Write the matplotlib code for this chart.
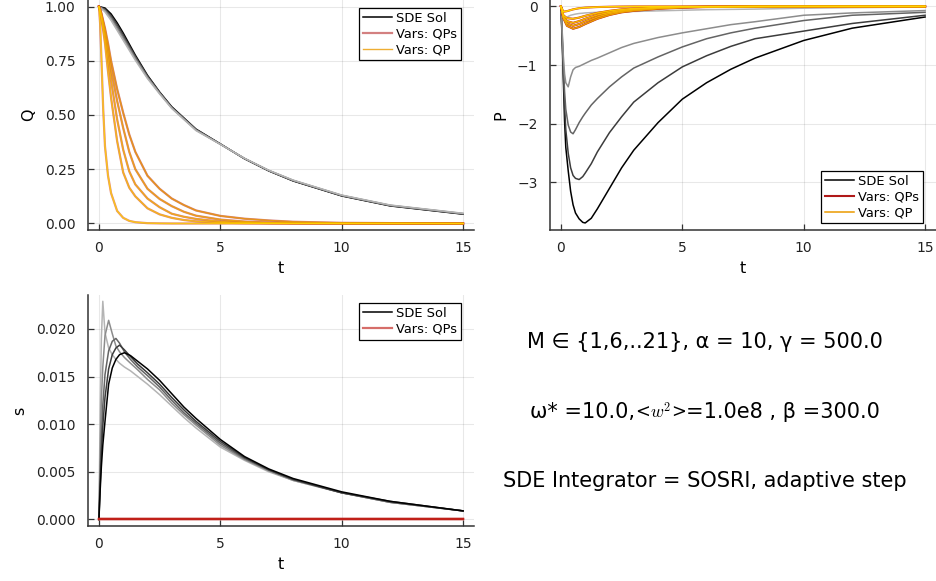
import matplotlib
matplotlib.use("Agg")
import matplotlib.pyplot as plt
from matplotlib.offsetbox import TextArea, HPacker, AnnotationBbox

plt.rcParams['font.family'] = ['DejaVu Sans']
plt.rcParams['mathtext.fontset'] = 'cm'

# ---- curve families (one row per M, darkest first) ----
M_values = [21, 16, 11, 6, 1]

sde_colors = ['#000000', '#3c3c3c', '#646464', '#8c8c8c', '#b4b4b4']
qp_colors = ['#eb9a00', '#f0a800', '#f4b400', '#f9c200', '#ffd400']
qps_colors = ['#b01818', '#b81c18', '#c01f18', '#c82418', '#d02a18']

# Q: SDE solution
t_q_sde = [0, 0.25, 0.5, 0.75, 1, 1.5, 2, 2.5, 3, 4, 5, 6, 7, 8, 10, 12, 15]
q_sde = [
    [1.0, 0.993, 0.966, 0.925, 0.878, 0.776, 0.683, 0.606, 0.538, 0.435, 0.367, 0.298, 0.242, 0.196, 0.127, 0.081, 0.043],
    [1.0, 0.988, 0.958, 0.916, 0.869, 0.770, 0.680, 0.604, 0.536, 0.433, 0.366, 0.299, 0.243, 0.197, 0.128, 0.082, 0.044],
    [1.0, 0.984, 0.951, 0.907, 0.860, 0.765, 0.676, 0.602, 0.534, 0.432, 0.366, 0.299, 0.244, 0.198, 0.129, 0.083, 0.045],
    [1.0, 0.980, 0.944, 0.898, 0.852, 0.758, 0.672, 0.600, 0.532, 0.430, 0.365, 0.300, 0.244, 0.199, 0.130, 0.084, 0.046],
    [1.0, 0.975, 0.936, 0.890, 0.844, 0.752, 0.668, 0.597, 0.530, 0.428, 0.365, 0.300, 0.245, 0.200, 0.131, 0.085, 0.047],
]

# Q: variational solutions (QPs and QP coincide)
t_q_var = [0, 0.05, 0.1, 0.175, 0.25, 0.375, 0.5, 0.75, 1, 1.25, 1.5, 2, 2.5, 3, 3.5, 4, 5, 6, 7, 8, 10, 15]
q_var = [
    [1, 0.990, 0.970, 0.935, 0.900, 0.830, 0.750, 0.620, 0.510, 0.410, 0.330, 0.220, 0.160, 0.115, 0.085, 0.060, 0.035, 0.022, 0.014, 0.008, 0.003, 0],
    [1, 0.985, 0.965, 0.925, 0.885, 0.800, 0.710, 0.565, 0.440, 0.330, 0.250, 0.160, 0.113, 0.080, 0.054, 0.036, 0.018, 0.009, 0.0045, 0.002, 0.0005, 0],
    [1, 0.980, 0.955, 0.910, 0.860, 0.760, 0.660, 0.480, 0.340, 0.240, 0.180, 0.115, 0.075, 0.045, 0.031, 0.021, 0.009, 0.004, 0.002, 0.001, 0, 0],
    [1, 0.975, 0.945, 0.890, 0.830, 0.700, 0.580, 0.380, 0.235, 0.165, 0.125, 0.070, 0.042, 0.026, 0.016, 0.010, 0.004, 0.0015, 0.0005, 0, 0, 0],
    [1, 0.920, 0.770, 0.530, 0.355, 0.220, 0.140, 0.058, 0.026, 0.012, 0.006, 0.0015, 0.0005, 0, 0, 0, 0, 0, 0, 0, 0, 0],
]

# P: SDE solution
t_p_sde = [0, 0.05, 0.1, 0.15, 0.2, 0.3, 0.4, 0.5, 0.6, 0.75, 0.9, 1.0, 1.25, 1.5, 2, 2.5, 3, 4, 5, 6, 7, 8, 10, 12, 15]
p_sde = [
    [0, -0.55, -1.25, -1.95, -2.40, -2.80, -3.15, -3.38, -3.52, -3.62, -3.68, -3.69, -3.61, -3.45, -3.10, -2.75, -2.45, -1.98, -1.58, -1.30, -1.07, -0.88, -0.58, -0.37, -0.18],
    [0, -0.50, -1.15, -1.70, -2.10, -2.50, -2.75, -2.88, -2.93, -2.95, -2.90, -2.84, -2.68, -2.48, -2.15, -1.88, -1.63, -1.30, -1.03, -0.84, -0.68, -0.55, -0.42, -0.29, -0.15],
    [0, -0.45, -1.00, -1.45, -1.75, -2.02, -2.14, -2.17, -2.10, -1.98, -1.88, -1.82, -1.68, -1.57, -1.37, -1.20, -1.05, -0.86, -0.69, -0.55, -0.45, -0.37, -0.24, -0.15, -0.10],
    [0, -0.40, -0.85, -1.15, -1.30, -1.37, -1.20, -1.08, -1.04, -1.02, -0.99, -0.97, -0.92, -0.88, -0.79, -0.70, -0.63, -0.53, -0.45, -0.38, -0.31, -0.26, -0.15, -0.11, -0.07],
    [0, -0.10, -0.17, -0.20, -0.20, -0.17, -0.15, -0.14, -0.13, -0.12, -0.115, -0.11, -0.105, -0.10, -0.095, -0.09, -0.085, -0.075, -0.065, -0.055, -0.05, -0.045, -0.03, -0.02, -0.01],
]

# P: variational solutions
t_p_var = [0, 0.1, 0.25, 0.5, 0.75, 1, 1.5, 2, 2.5, 3, 4, 5, 6, 8, 10, 15]
p_var = [
    [0, -0.20, -0.33, -0.38, -0.35, -0.30, -0.21, -0.145, -0.10, -0.075, -0.040, -0.020, -0.010, -0.003, 0, 0],
    [0, -0.19, -0.29, -0.33, -0.30, -0.255, -0.18, -0.12, -0.085, -0.060, -0.030, -0.015, -0.007, -0.002, 0, 0],
    [0, -0.18, -0.25, -0.28, -0.25, -0.21, -0.145, -0.10, -0.07, -0.048, -0.024, -0.012, -0.005, -0.001, 0, 0],
    [0, -0.15, -0.20, -0.21, -0.19, -0.16, -0.11, -0.075, -0.05, -0.035, -0.017, -0.008, -0.004, 0, 0, 0],
    [0, -0.09, -0.08, -0.05, -0.03, -0.02, -0.01, -0.005, -0.002, 0, 0, 0, 0, 0, 0, 0],
]

# s: SDE solution
t_s_sde = [0, 0.05, 0.1, 0.16, 0.25, 0.4, 0.55, 0.7, 0.85, 1.05, 1.3, 1.6, 2, 2.5, 3, 3.5, 4, 5, 6, 7, 8, 10, 12, 15]
s_sde = [
    [0, 0.0030, 0.0055, 0.0078, 0.0103, 0.0142, 0.0159, 0.0168, 0.0173, 0.0175, 0.0172, 0.0166, 0.0158, 0.0146, 0.0132, 0.0118, 0.0106, 0.0084, 0.0066, 0.0053, 0.0043, 0.0029, 0.0019, 0.0009],
    [0, 0.0035, 0.0070, 0.0098, 0.0128, 0.0158, 0.0173, 0.0180, 0.0183, 0.0178, 0.0171, 0.0163, 0.0154, 0.0142, 0.0128, 0.0115, 0.0103, 0.0082, 0.0065, 0.0052, 0.0042, 0.0028, 0.0019, 0.0009],
    [0, 0.0045, 0.0085, 0.0120, 0.0152, 0.0177, 0.0187, 0.0190, 0.0185, 0.0176, 0.0168, 0.0160, 0.0151, 0.0139, 0.0125, 0.0112, 0.0101, 0.0080, 0.0064, 0.0052, 0.0042, 0.0028, 0.0018, 0.0009],
    [0, 0.0070, 0.0125, 0.0160, 0.0193, 0.0209, 0.0195, 0.0182, 0.0176, 0.0170, 0.0164, 0.0157, 0.0147, 0.0136, 0.0122, 0.0110, 0.0099, 0.0078, 0.0063, 0.0051, 0.0041, 0.0028, 0.0018, 0.0009],
    [0, 0.0110, 0.0190, 0.0229, 0.0196, 0.0180, 0.0173, 0.0168, 0.0164, 0.0160, 0.0156, 0.0150, 0.0142, 0.0131, 0.0119, 0.0107, 0.0096, 0.0076, 0.0062, 0.0050, 0.0041, 0.0028, 0.0018, 0.0009],
]

# s: variational (QPs) solution is identically zero
t_s_var = [0, 15]
s_var = [0.0, 0.0]

x_ticks = [0, 5, 10, 15]
q_ticks = [0.00, 0.25, 0.50, 0.75, 1.00]
p_ticks = [0, -1, -2, -3]
s_ticks = [0.000, 0.005, 0.010, 0.015, 0.020]

info_line1 = "M ∈ {1,6,..21}, α = 10, γ = 500.0"
info_line2 = ["ω* =10.0,", "<", "$w^2$", ">", "=1.0e8 , β =300.0"]
info_line3 = "SDE Integrator = SOSRI, adaptive step"

W, H = 937, 581
fig = plt.figure(figsize=(W / 100, H / 100), dpi=100)


def axes_px(left, top, right, bottom):
    return fig.add_axes([left / W, 1 - bottom / H, (right - left) / W, (bottom - top) / H])


def style(ax, ylabel, yticks, yfmt):
    ax.set_xlim(-0.45, 15.45)
    ax.set_xticks(x_ticks)
    ax.set_yticks(yticks)
    ax.set_yticklabels([yfmt(v) for v in yticks])
    for side in ('top', 'right'):
        ax.spines[side].set_visible(False)
    for side in ('left', 'bottom'):
        ax.spines[side].set_color('#333333')
        ax.spines[side].set_linewidth(1.1)
    ax.tick_params(direction='in', length=4, width=0.9, color='#333333',
                   labelsize=10, labelcolor='#222222')
    ax.tick_params(axis='y', pad=9)
    ax.tick_params(axis='x', pad=8)
    ax.grid(True, color='black', alpha=0.09, lw=0.8)
    ax.set_axisbelow(True)
    ax.set_xlabel('t', fontsize=11.5, labelpad=4)
    ax.set_ylabel(ylabel, fontsize=11.5, labelpad=6)


def legend(ax, loc, anchor):
    leg = ax.legend(loc=loc, bbox_to_anchor=anchor, borderaxespad=0, fontsize=9.4,
                    frameon=True, fancybox=False, framealpha=1, edgecolor='black',
                    handlelength=2.2, handletextpad=0.3, labelspacing=0.2,
                    borderpad=0.3)
    leg.get_frame().set_linewidth(0.9)


# ---- Q panel ----
axQ = axes_px(88, 0, 474, 230)
for i, y in enumerate(q_sde):
    axQ.plot(t_q_sde, y, color=sde_colors[i], lw=1.1, label='SDE Sol' if i == 0 else None)
for i, y in enumerate(q_var):
    axQ.plot(t_q_var, y, color=qps_colors[i], lw=1.6, alpha=0.55,
             label='Vars: QPs' if i == 0 else None)
for i, y in enumerate(q_var):
    axQ.plot(t_q_var, y, color=qp_colors[i], lw=1.0, alpha=0.8,
             label='Vars: QP' if i == 0 else None)
axQ.set_ylim(-0.03, 1.03)
style(axQ, 'Q', q_ticks, lambda v: f"{v:.2f}")
legend(axQ, 'upper right', (0.966, 0.965))

# ---- P panel ----
axP = axes_px(550, 0, 936, 230)
for i, y in enumerate(p_sde):
    axP.plot(t_p_sde, y, color=sde_colors[i], lw=1.1, label='SDE Sol' if i == 0 else None)
for i, y in enumerate(p_var):
    axP.plot(t_p_var, y, color=qps_colors[i], lw=1.5,
             label='Vars: QPs' if i == 0 else None)
for i, y in enumerate(p_var):
    axP.plot(t_p_var, y, color=qp_colors[i], lw=1.1,
             label='Vars: QP' if i == 0 else None)
axP.set_ylim(-3.81, 0.11)
style(axP, 'P', p_ticks, lambda v: f"{v:d}".replace('-', '\u2212'))
legend(axP, 'lower right', (0.966, 0.03))

# ---- s panel ----
axS = axes_px(88, 295, 474, 526)
for i, y in enumerate(s_sde[::-1]):
    axS.plot(t_s_sde, y, color=sde_colors[::-1][i], lw=1.1)
axS.plot([], [], color=sde_colors[0], lw=1.1, label='SDE Sol')
for i in range(len(M_values)):
    axS.plot(t_s_var, s_var, color=qps_colors[2], lw=1.6, alpha=0.65,
             label='Vars: QPs' if i == 0 else None)
axS.set_ylim(-0.000686, 0.02356)
style(axS, 's', s_ticks, lambda v: f"{v:.3f}")
legend(axS, 'upper right', (0.966, 0.965))

# ---- parameter summary ----
FS = 15
fig.text(705 / W, 1 - 342 / H, info_line1, ha='center', va='center', fontsize=FS)
fig.text(705 / W, 1 - 481 / H, info_line3, ha='center', va='center', fontsize=FS)
small = dict(fontsize=FS * 0.85, fontfamily='DejaVu Serif')
parts = [
    TextArea(info_line2[0], textprops=dict(fontsize=FS)),
    TextArea(info_line2[1], textprops=small),
    TextArea(info_line2[2], textprops=dict(fontsize=FS * 0.85)),
    TextArea(info_line2[3], textprops=small),
    TextArea(info_line2[4], textprops=dict(fontsize=FS)),
]
row = HPacker(children=parts, align='baseline', pad=0, sep=0)
ab = AnnotationBbox(row, (705 / W, 1 - 412 / H), xycoords='figure fraction',
                    box_alignment=(0.5, 0.5), frameon=False, pad=0)
fig.add_artist(ab)

fig.savefig('out.png', dpi=100)
